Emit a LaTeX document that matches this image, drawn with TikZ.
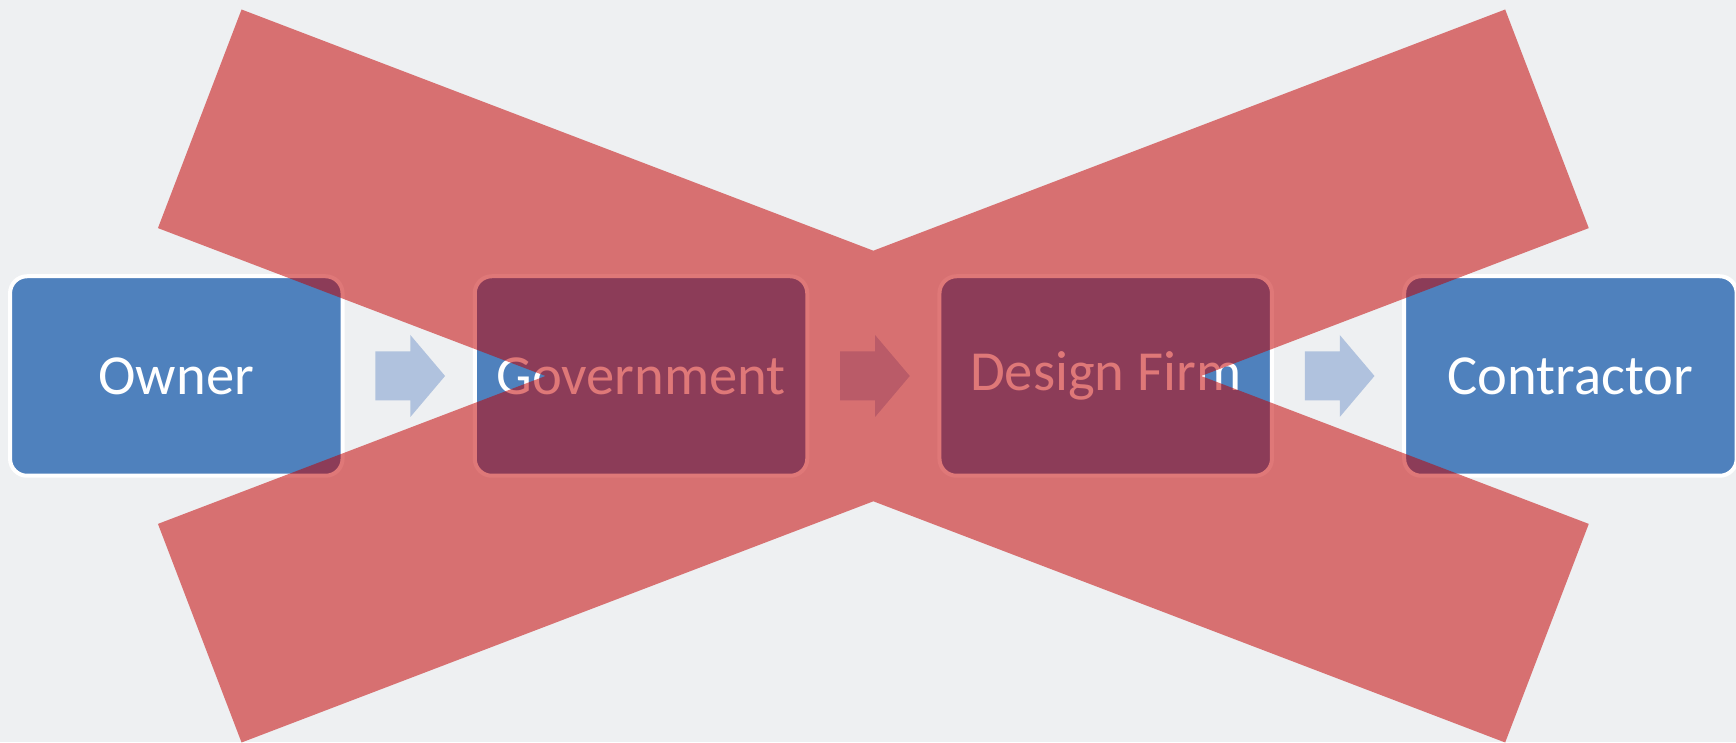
\documentclass[tikz,border=0pt]{standalone}
\usepackage{fontspec}
\setmainfont{Carlito}
\usetikzlibrary{calc}

\definecolor{pagegray}{HTML}{EEF0F2}
\definecolor{boxblue}{HTML}{4F81BD}
\definecolor{flowblue}{HTML}{B0C2DE}
\definecolor{crossred}{RGB}{195,0,0}

\begin{document}
\begin{tikzpicture}[
	party/.style={draw=white, fill=boxblue, line width=0.04cm, rounded corners=0.17cm,
		minimum width=3.325cm, minimum height=1.995cm, inner sep=0pt,
		text=white, font=\fontsize{16.1}{19}\selectfont},
	flow/.style={fill=flowblue},
	cross/.style={fill=crossred, fill opacity=0.53}
]
	\useasboundingbox (0,0) rectangle (17.36,7.42);
	\clip (0,0) rectangle (17.36,7.42);
	\fill[pagegray] (0,0) rectangle (17.36,7.42);

	\node[party] (owner) at (1.763, 3.66) {Owner};
	\node[party] (government) at (6.410, 3.66) {Government};
	\node[party] (designfirm) at (11.057, 3.66) {Design Firm};
	\node[party] (contractor) at (15.704, 3.66) {Contractor};

	% block arrows between the boxes
	\foreach \a in {owner, government, designfirm}
		\fill[flow, shift={(\a.east)}] (0.308,0.245) -- (0.658,0.245) -- (0.658,0.41)
			-- (1.005,0) -- (0.658,-0.41) -- (0.658,-0.245) -- (0.308,-0.245) -- cycle;

	% the big cross over the middle
	\coordinate (mid) at ($(government)!0.5!(designfirm)$);
	\fill[cross, shift={(mid)}] (-6.318,3.665) -- (0,1.253) -- (6.318,3.665)
		-- (7.154,1.479) -- (3.278,0) -- (7.154,-1.479) -- (6.318,-3.665)
		-- (0,-1.253) -- (-6.318,-3.665) -- (-7.154,-1.479) -- (-3.278,0)
		-- (-7.154,1.479) -- cycle;
\end{tikzpicture}
\end{document}
